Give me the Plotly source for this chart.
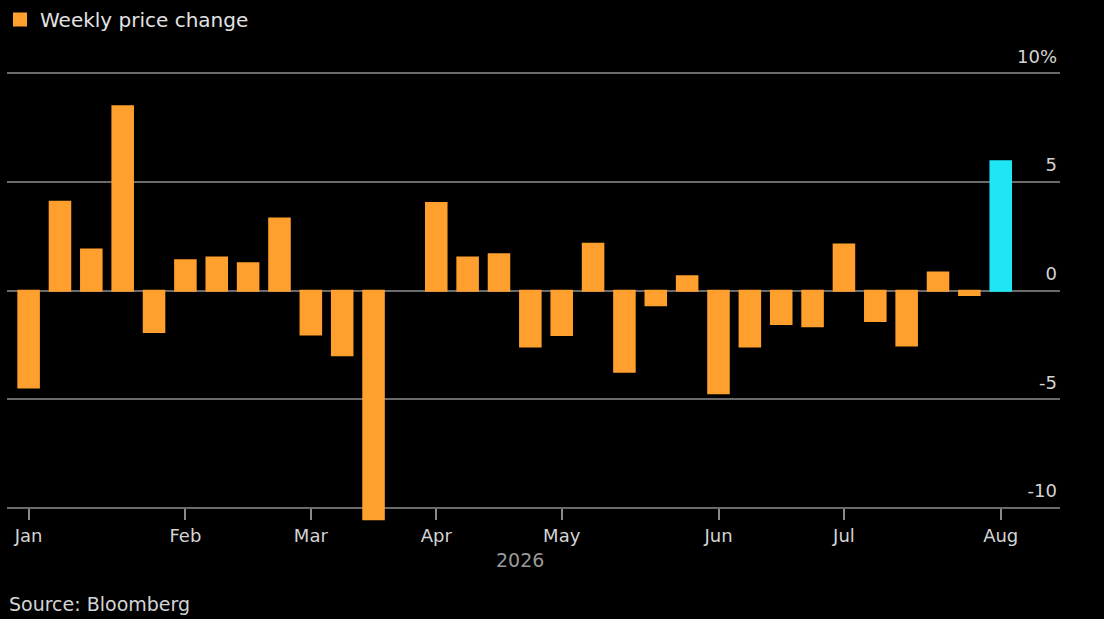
import pandas as pd
import plotly.graph_objects as go

# weekly (Friday) observations, 2026
weeks = [
    "2026-01-02", "2026-01-09", "2026-01-16", "2026-01-23", "2026-01-30",
    "2026-02-06", "2026-02-13", "2026-02-20", "2026-02-27",
    "2026-03-06", "2026-03-13", "2026-03-20", "2026-03-27",
    "2026-04-03", "2026-04-10", "2026-04-17", "2026-04-24",
    "2026-05-01", "2026-05-08", "2026-05-15", "2026-05-22", "2026-05-29",
    "2026-06-05", "2026-06-12", "2026-06-19", "2026-06-26",
    "2026-07-03", "2026-07-10", "2026-07-17", "2026-07-24", "2026-07-31",
    "2026-08-07",
]
# no bar is drawn for the week of Mar 27
weekly_change = [
    -4.46, 4.09, 1.89, 8.49, -1.90,
    1.40, 1.53, 1.26, 3.32,
    -2.02, -2.97, -10.52, None,
    4.03, 1.52, 1.67, -2.57,
    -2.04, 2.16, -3.73, -0.67, 0.66,
    -4.72, -2.57, -1.54, -1.64,
    2.12, -1.40, -2.53, 0.84, -0.20,
    5.96,
]
y_ticks = [-10, -5, 0, 5, 10]
y_labels = ["-10", "-5", "0", "5", "10%"]

ORANGE = "#FFA02E"
CYAN = "#1EE6F5"
GRID = "#6a6a6a"
TEXT = "#d4d4d4"
FONT = "DejaVu Sans"

# month ticks sit on the first week of each month
dates = pd.to_datetime(weeks)
tick_vals, tick_text = [], []
for i, d in enumerate(dates):
    if i == 0 or d.month != dates[i - 1].month:
        tick_vals.append(weeks[i])
        tick_text.append(d.strftime("%b"))

orange_y = weekly_change[:-1] + [None]
cyan_y = [None] * (len(weeks) - 1) + weekly_change[-1:]

fig = go.Figure()
fig.add_trace(go.Bar(x=weeks, y=orange_y, name="Weekly price change",
                     marker=dict(color=ORANGE, line=dict(color=ORANGE, width=2)),
                     width=0.655))
fig.add_trace(go.Bar(x=weeks, y=cyan_y, showlegend=False,
                     marker=dict(color=CYAN, line=dict(color=CYAN, width=2)),
                     width=0.655))

y_min, y_max = -11.20, 12.41
fig.update_layout(
    width=1104,
    height=619,
    margin=dict(l=7, r=44, t=21, b=85, autoexpand=False),
    paper_bgcolor="#000000",
    plot_bgcolor="#000000",
    barmode="overlay",
    font=dict(family=FONT, color=TEXT, size=18),
    showlegend=True,
    legend=dict(
        x=0, y=1, xref="container", yref="container",
        xanchor="left", yanchor="top",
        font=dict(size=20, color="#e2e2e2"),
        bgcolor="rgba(0,0,0,0)",
    ),
    xaxis=dict(
        type="category",
        range=[-0.689, 32.89],
        anchor="free",
        position=(-10 - y_min) / (y_max - y_min),
        tickvals=tick_vals,
        ticktext=tick_text,
        ticks="outside",
        ticklen=11,
        tickwidth=2,
        tickcolor="#8a8a8a",
        showline=True,
        linecolor=GRID,
        linewidth=2,
        showgrid=False,
        layer="below traces",
        tickfont=dict(size=18, color=TEXT),
    ),
    yaxis=dict(
        range=[y_min, y_max],
        side="right",
        tickvals=y_ticks,
        ticktext=y_labels,
        ticklabelposition="inside",
        ticklabelshift=-17,
        ticks="",
        showgrid=True,
        gridcolor=GRID,
        gridwidth=2,
        zeroline=False,
        tickfont=dict(size=18, color=TEXT),
    ),
    annotations=[
        dict(text="2026", x=0.487, y=-0.051, xref="paper", yref="paper",
             xanchor="center", yanchor="middle", showarrow=False,
             font=dict(size=19, color="#9a9a9a")),
        dict(text="Source: Bloomberg", x=0, y=-0.1365, xref="paper", yref="paper",
             xanchor="left", yanchor="middle", showarrow=False,
             font=dict(size=19, color=TEXT)),
    ],
)

fig.write_html("out.html", config={"displayModeBar": False},
               post_script="document.body.style.margin = '0';")
